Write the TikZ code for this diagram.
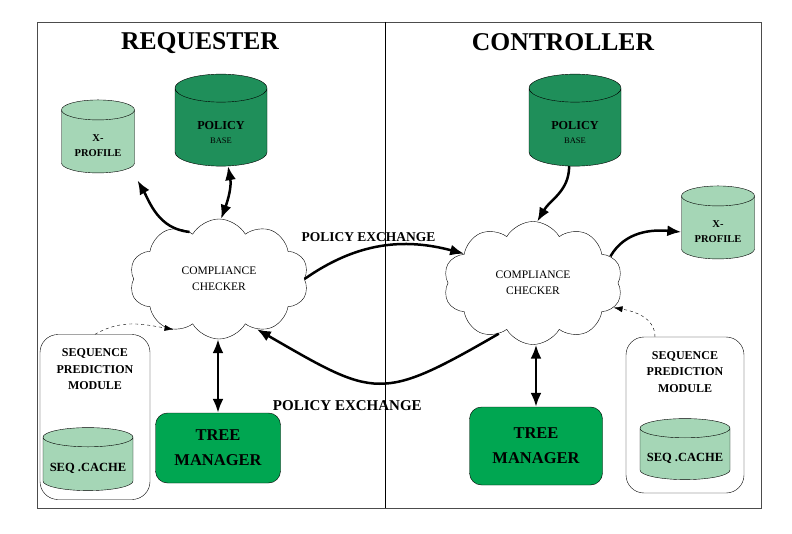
\documentclass[tikz,border=0pt]{standalone}
\usepackage{fontspec}
\setmainfont{Liberation Serif}
\usetikzlibrary{shapes.geometric,shapes.symbols,arrows.meta}

\definecolor{basegreen}{HTML}{1F8F5A}
\definecolor{palegreen}{HTML}{A5D6B6}
\definecolor{treegreen}{HTML}{00A651}

\tikzset{
  title/.style={font=\bfseries\fontsize{25.6}{28}\selectfont},
  db/.style={cylinder, shape border rotate=90, draw, thin, inner sep=20pt},
  dbtext/.style={align=center},
  checker/.style={cloud, draw, cloud puffs=10, cloud puff arc=120, aspect=1.5,
    minimum width=179, minimum height=120, align=center,
    font=\fontsize{11.5}{16}\selectfont},
  seqbox/.style={draw, rounded corners=18pt},
  seqtext/.style={font=\bfseries\fontsize{12}{16.5}\selectfont, align=center, anchor=north},
  treebox/.style={draw, fill=treegreen, rounded corners=12pt, align=center,
    font=\bfseries\fontsize{16.5}{25}\selectfont},
  xptext/.style={font=\bfseries\fontsize{10.5}{15}\selectfont},
  pbtext/.style={font=\bfseries\fontsize{12.2}{14}\selectfont},
  sctext/.style={font=\bfseries\fontsize{12.5}{14}\selectfont},
  bigarrow/.style={line width=2.5pt, -{Latex[length=14pt,width=11pt]}},
  bigboth/.style={line width=2.5pt, {Latex[length=14pt,width=11pt]}-{Latex[length=14pt,width=11pt]}},
  dasharrow/.style={dashed, thin, -{Latex[length=9pt,width=6pt]}}
}

\begin{document}
\begin{tikzpicture}[x=1pt,y=1pt]
\useasboundingbox (0,0) rectangle (792,-534);

% frame and split line
\draw[gray!60!black] (37,-22) rectangle (761,-508);
\draw (385,-22) -- (385,-508);

% titles
\node[title] (reqtitle) at (200,-43) {REQUESTER};
\node[title] (contitle) at (563,-42) {CONTROLLER};

% requester side
\node[checker] (reqcc) at (219,-279) {COMPLIANCE\\CHECKER};
\node[db, fill=palegreen, minimum width=73, minimum height=73, aspect=0.5,
  label={[dbtext, xptext]center:X-\\PROFILE}] (reqxp) at (98,-146) {};
\node[db, fill=basegreen, minimum width=92, minimum height=92, aspect=0.7,
  label={[dbtext, pbtext]center:POLICY\\\fontsize{8.5}{10}\selectfont\mdseries BASE}] (reqpb) at (221,-133) {};
\node[seqbox, minimum width=110, minimum height=165,
  label={[seqtext, yshift=-11pt]north:SEQUENCE\\PREDICTION\\MODULE}] (reqsp) at (95,-417) {};
\node[db, fill=palegreen, minimum width=90, minimum height=63, aspect=0.48,
  label={[dbtext, sctext]center:SEQ .CACHE}] (reqsc) at (88,-468) {};
\node[treebox, minimum width=125, minimum height=70] (reqtm) at (218,-448) {TREE\\MANAGER};

% controller side
\node[checker, minimum height=123] (concc) at (533,-283) {COMPLIANCE\\CHECKER};
\node[db, fill=basegreen, minimum width=92, minimum height=92, aspect=0.7,
  label={[dbtext, pbtext]center:POLICY\\\fontsize{8.5}{10}\selectfont\mdseries BASE}] (conpb) at (575,-133) {};
\node[db, fill=palegreen, minimum width=73, minimum height=73, aspect=0.5,
  label={[dbtext, xptext]center:X-\\PROFILE}] (conxp) at (718,-232) {};
\node[seqbox, minimum width=118, minimum height=156,
  label={[seqtext, yshift=-11pt]north:SEQUENCE\\PREDICTION\\MODULE}] (consp) at (685,-415) {};
\node[db, fill=palegreen, minimum width=90, minimum height=60, aspect=0.48,
  label={[dbtext, sctext]center:SEQ .CACHE}] (consc) at (685,-458) {};
\node[treebox, minimum width=133, minimum height=78] (contm) at (536,-446) {TREE\\MANAGER};

% requester links
\draw[bigarrow, shorten >=8pt] (reqcc.122) to[out=175,in=-60] ([xshift=11pt,yshift=-3pt]reqxp.south east);
\draw[bigboth] (reqcc.88) to[out=70,in=-80] (reqpb.-78);
\draw[bigboth] (reqtm.north) -- (reqtm.north |- reqcc.south);
\draw[dasharrow] (reqsp.north) to[out=30,in=170] (reqcc.228);

% policy exchange
\draw[bigarrow] (reqcc.east) to[out=35,in=165]
  node[pos=0.42, above=3pt, font=\bfseries\fontsize{13.5}{15}\selectfont] {POLICY EXCHANGE} (concc.157);
\draw[bigarrow] (concc.236) to[out=-150,in=-30, looseness=1.45]
  node[pos=0.66, below=19pt, font=\bfseries\fontsize{15}{17}\selectfont] {POLICY EXCHANGE} (reqcc.-53);

% controller links
\draw[bigarrow] (conpb.-100) to[out=-90,in=60] (concc.86);
\draw[bigarrow] (concc.19) to[out=60,in=175] (conxp.west);
\draw[bigboth] (contm.north) -- (contm.north |- concc.south);
\draw[dasharrow] (consp.111) to[out=90,in=-10] (concc.-17);
\end{tikzpicture}
\end{document}
